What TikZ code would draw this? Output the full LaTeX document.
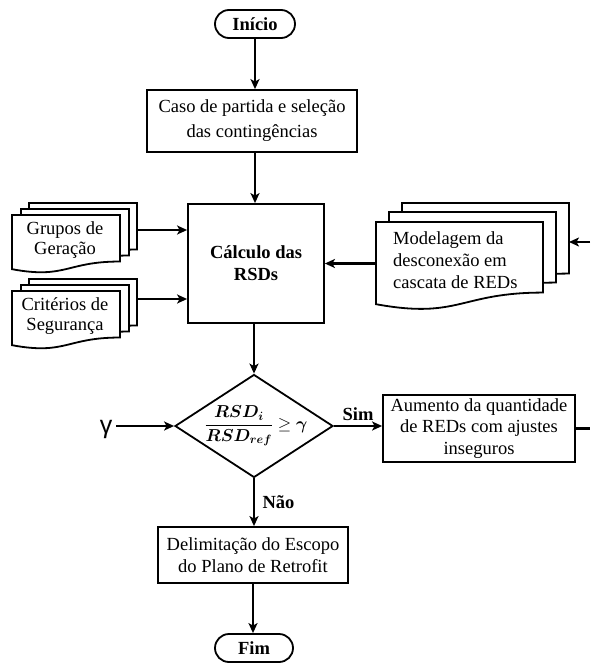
\documentclass[tikz,border=0pt]{standalone}
\usepackage{amsmath,bm}
\usepackage{fontspec}
\setmainfont{Liberation Serif}
\newfontfamily\gfont{Liberation Sans}
\usetikzlibrary{arrows.meta,shapes.geometric}
\tikzset{
 box/.style={draw, line width=1.8pt, rectangle, inner sep=0pt, align=center, font=\fontsize{18.5}{22}\selectfont},
 term/.style={box, rounded corners=14pt, font=\fontsize{18.5}{22}\selectfont\bfseries},
 arr/.style={line width=2.4pt, -{Stealth[length=10pt,width=9pt,inset=2.5pt]}},
 ln/.style={line width=2.4pt},
 docline/.style={draw, line width=1.8pt, fill=white},
 lab/.style={font=\fontsize{18.5}{22}\selectfont\bfseries},
 doctext/.style={align=center, font=\fontsize{18.5}{20}\selectfont, inner sep=0pt},
 ghost/.style={inner sep=0pt, outer sep=0pt},
}
\newcommand\mydoc[4]{\path[docline] (#1,#2) -- ({#1+#3},#2) -- ({#1+#3},{#2+0.802*#4}) .. controls ({#1+0.5*#3},{#2+0.802*#4}) and ({#1+0.5*#3},{#2+1.1075*#4}) .. (#1,{#2+0.934*#4}) -- cycle;}
\begin{document}
\begin{tikzpicture}[x=1pt,y=-1pt]
\useasboundingbox (0,0) rectangle (590,664);
\fill[white] (0,0) rectangle (590,664);

% main column
\node[term, minimum width=80pt, minimum height=28pt] (start) at (255,24) {Início};
\node[box, minimum width=210pt, minimum height=62pt, font=\fontsize{18.5}{25}\selectfont] (caso) at (252,121) {Caso de partida e seleção\\das contingências};
\node[box, minimum width=136pt, minimum height=119pt, font=\fontsize{18.5}{22}\selectfont\bfseries] (calc) at (256,263.5) {Cálculo das\\RSDs};
\node[draw, line width=1.8pt, diamond, inner sep=0pt, minimum width=158pt, minimum height=103pt] (dia) at (254,426) {};
\node[inner sep=0pt, font=\fontsize{18}{20}\selectfont] (dlab) at (256,426) {$\displaystyle\frac{\bm{RSD_{\bm{i}}}}{\bm{RSD_{\bm{ref}}}}\geq\bm{\gamma}$};
\node[box, minimum width=192pt, minimum height=67pt, font=\fontsize{18.5}{21.5}\selectfont] (aum) at (479,428.5) {Aumento da quantidade\\de REDs com ajustes\\inseguros};
\node[box, minimum width=190pt, minimum height=56pt] (del) at (253,555) {Delimitação do Escopo\\do Plano de Retrofit};
\node[term, minimum width=78pt, minimum height=28pt] (fim) at (254,648) {Fim};
\node[inner sep=0pt, font=\gfont\fontsize{25}{27}\selectfont] (gam) at (106,429) {γ};

% document stacks
\node[ghost, minimum width=125pt, minimum height=54pt] (grp) at (74.5,230) {};
\mydoc{29}{203}{108}{58}
\mydoc{21}{209}{108}{58}
\mydoc{12}{215}{108}{58}
\node[doctext] (grpt) at (65,240) {Grupos de\\Geração};

\node[ghost, minimum width=125pt, minimum height=40pt] (crit) at (74.5,299) {};
\mydoc{29}{279}{108}{58}
\mydoc{21}{285}{108}{58}
\mydoc{12}{291}{108}{58}
\node[doctext] (critt) at (65,316) {Critérios de\\Segurança};

\node[ghost, minimum width=193pt, minimum height=78pt] (mod) at (472.5,242) {};
\mydoc{402}{203}{167}{88}
\mydoc{389}{212}{167}{88}
\mydoc{376}{222}{167}{88}
\node[doctext, align=left, anchor=west, font=\fontsize{18.5}{22}\selectfont] (modt) at (393,260) {Modelagem da\\desconexão em\\cascata de REDs};

% free ends at the right edge
\coordinate (e1) at (590,430);
\coordinate (e2) at (590,242);

% connectors
\draw[arr] (start.south) -- (start.south |- caso.north);
\draw[arr] (start.south |- caso.south) -- (start.south |- calc.north);
\draw[arr] (dia.north |- calc.south) -- (dia.north);
\draw[arr] (grp.east) -- (grp.east -| calc.west);
\draw[arr] (crit.east) -- (crit.east -| calc.west);
\draw[arr] (mod.west |- calc.east) -- (calc.east);
\draw[arr] (e2) -- (mod.east);
\draw[arr] (dia.west -| gam.east) ++(4,0) -- (dia.west);
\draw[arr] (dia.east) -- (dia.east -| aum.west) node[midway, above, lab, yshift=1pt] {Sim};
\draw[arr] (dia.south) -- (dia.south |- del.north) node[midway, right, lab, xshift=4pt] {Não};
\draw[ln] (aum.east) -- (aum.east -| e1);
\draw[arr] (del.south) -- (del.south |- fim.north);
\end{tikzpicture}
\end{document}
